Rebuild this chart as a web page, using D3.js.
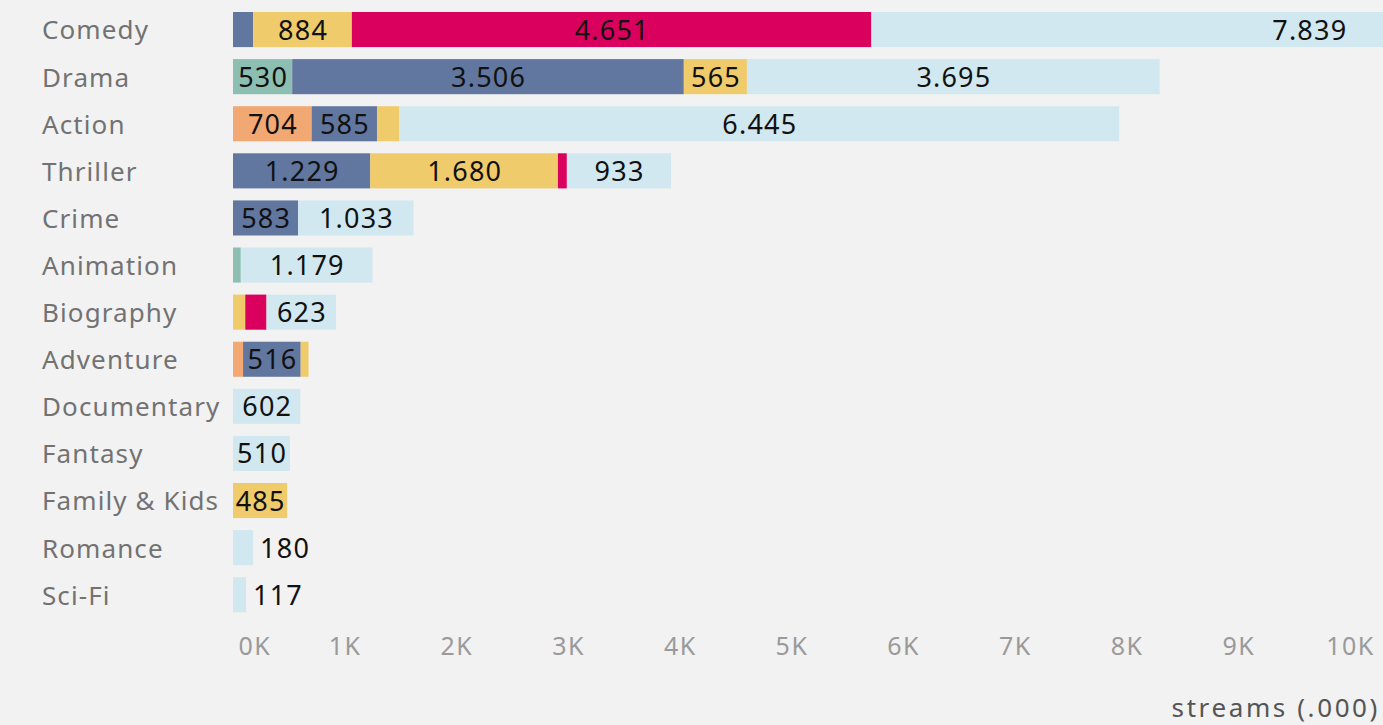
<!DOCTYPE html>
<html>
<head>
<meta charset="utf-8">
<script src="https://cdn.jsdelivr.net/npm/d3@7"></script>
<style>
  body { margin: 0; background: #f2f2f2; }
  svg { display: block; font-family: "Noto Sans", sans-serif; }
</style>
</head>
<body>
<svg id="chart" width="1383" height="725"></svg>
<script>
const genres = ["Comedy", "Drama", "Action", "Thriller", "Crime", "Animation", "Biography",
    "Adventure", "Documentary", "Fantasy", "Family & Kids", "Romance", "Sci-Fi"];

// stack order, left to right
const seriesKeys = ["teal", "orange", "blue", "yellow", "red", "light"];
const seriesColors = ["#8cbfb1", "#f2a873", "#61779f", "#f0cb6b", "#d9005e", "#d2e8f0"];

// streams (.000) per genre, one array per series
const teal   = [0, 530, 0, 0, 0, 70, 0, 0, 0, 0, 0, 0, 0];
const orange = [0, 0, 704, 0, 0, 0, 0, 90, 0, 0, 0, 0, 0];
const blue   = [180, 3506, 585, 1229, 583, 0, 0, 516, 0, 0, 0, 0, 0];
const yellow = [884, 565, 200, 1680, 0, 0, 110, 70, 0, 0, 485, 0, 0];
const red    = [4651, 0, 0, 80, 0, 0, 190, 0, 0, 0, 0, 0, 0];
const light  = [7839, 3695, 6445, 933, 1033, 1179, 623, 0, 602, 510, 0, 180, 117];

const xTicks = [0, 1000, 2000, 3000, 4000, 5000, 6000, 7000, 8000, 9000, 10000];
const axisTitle = "streams (.000)";

const width = 1383, height = 725;
const svg = d3.select("#chart");

const rows = genres.map((g, i) => ({
    genre: g, teal: teal[i], orange: orange[i], blue: blue[i],
    yellow: yellow[i], red: red[i], light: light[i]
}));

const stacked = d3.stack().keys(seriesKeys)(rows);

const x = d3.scaleLinear().domain([0, 10000]).range([233, 1350]);
const y = d3.scaleBand().domain(genres).range([6, 6 + 13 * 47.1])
    .paddingInner(0.255).paddingOuter(0.1275);
const color = d3.scaleOrdinal().domain(seriesKeys).range(seriesColors);

const fmt = d3.formatLocale({ decimal: ",", thousands: ".", grouping: [3], currency: ["", ""] }).format(",d");

// category labels
svg.append("g").selectAll("text")
    .data(genres)
    .join("text")
    .attr("x", 42)
    .attr("y", d => y(d) + y.bandwidth() / 2)
    .attr("dy", "0.38em")
    .attr("fill", "#727272")
    .attr("font-size", "26px")
    .attr("letter-spacing", "1.1px")
    .text(d => d);

// bars
const layer = svg.append("g").selectAll("g")
    .data(stacked)
    .join("g")
    .attr("fill", d => color(d.key));

layer.selectAll("rect")
    .data(d => d.map(s => ({ key: d.key, s: s })))
    .join("rect")
    .attr("x", d => x(d.s[0]))
    .attr("y", d => y(d.s.data.genre))
    .attr("width", d => x(d.s[1]) - x(d.s[0]))
    .attr("height", y.bandwidth());

// value labels: centred in segment when they fit, else after a single-segment bar
const labels = svg.append("g")
    .attr("font-size", "27px")
    .attr("letter-spacing", "1.2px")
    .attr("fill", "#111");

stacked.forEach(series => {
    series.forEach(s => {
        const v = s[1] - s[0];
        if (v <= 0) return;
        const w = x(s[1]) - x(s[0]);
        const t = labels.append("text")
            .attr("y", y(s.data.genre) + y.bandwidth() / 2)
            .attr("dy", "0.37em")
            .text(fmt(v));
        const tw = t.node().getComputedTextLength();
        const segs = seriesKeys.filter(k => s.data[k] > 0).length;
        if (tw - 3 <= w) {
            t.attr("x", (x(s[0]) + x(s[1])) / 2 + 0.6).attr("text-anchor", "middle");
        } else if (segs === 1) {
            t.attr("x", x(s[1]) + 7).attr("text-anchor", "start");
        } else {
            t.remove();
        }
    });
});

// x axis
const axis = svg.append("g")
    .attr("transform", "translate(0,637)")
    .call(d3.axisBottom(x).tickValues(xTicks).tickSize(0).tickPadding(0)
        .tickFormat(d => (d / 1000) + "K"));
axis.select(".domain").remove();
axis.selectAll("text")
    .attr("font-size", "25px")
    .attr("letter-spacing", "1.5px")
    .attr("fill", "#9a9a9a")
    .attr("font-family", "\"Noto Sans\", sans-serif")
    .attr("dy", "0.71em");
axis.selectAll(".tick").filter(d => d === 0).select("text")
    .attr("text-anchor", "start")
    .attr("x", 5);

svg.append("text")
    .attr("x", 1380)
    .attr("y", 708)
    .attr("dy", "0.36em")
    .attr("text-anchor", "end")
    .attr("font-size", "26px")
    .attr("fill", "#555")
    .attr("letter-spacing", "2.6px")
    .text(axisTitle);
</script>
</body>
</html>
